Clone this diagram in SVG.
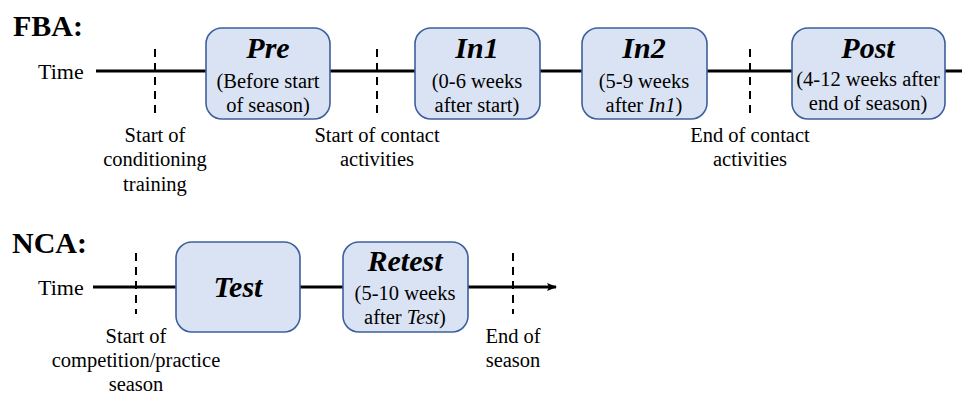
<svg xmlns="http://www.w3.org/2000/svg" width="962" height="396" viewBox="0 0 962 396">
  <style>
    text { font-family: "Liberation Serif", "Times New Roman", serif; fill: #000; }
    .head { font-size: 30px; font-weight: bold; }
    .time { font-size: 22px; }
    .lbl { font-size: 20.5px; text-anchor: middle; }
    .ttl { font-size: 30px; font-weight: bold; font-style: italic; text-anchor: middle; }
    .sub { font-size: 20.5px; text-anchor: middle; }
    .box { fill: #dae3f3; stroke: #3e5f9c; stroke-width: 1.6; }
    .axis { stroke: #000; stroke-width: 3; fill: none; }
    .tick { stroke: #000; stroke-width: 2; stroke-dasharray: 8 6; }
  </style>
  <defs>
    <marker id="arrow" markerWidth="10" markerHeight="8" refX="9" refY="4" orient="auto" markerUnits="userSpaceOnUse">
      <path d="M0,0 L10,4 L0,8 L2,4 Z" fill="#000"/>
    </marker>
  </defs>
  <rect width="962" height="396" fill="#fff"/>

  <!-- time axes and dashed milestone ticks -->
  <g id="connectors">
    <line class="axis" x1="96" y1="71" x2="962" y2="71"/>
    <line class="tick" x1="155" y1="49" x2="155" y2="113"/>
    <line class="tick" x1="377" y1="49" x2="377" y2="113"/>
    <line class="tick" x1="750" y1="49" x2="750" y2="113"/>
    <line class="axis" x1="93" y1="287" x2="556" y2="287" marker-end="url(#arrow)"/>
    <line class="tick" x1="136" y1="253" x2="136" y2="314"/>
    <line class="tick" x1="513" y1="253" x2="513" y2="314"/>
  </g>

  <!-- FBA timeline -->
  <text class="head" x="13" y="36">FBA:</text>
  <text class="time" x="38" y="79">Time</text>

  <g id="pre">
    <rect class="box" x="206" y="28" width="124" height="91" rx="16"/>
    <text class="ttl" x="268" y="58">Pre</text>
    <text class="sub" x="268" y="88">(Before start</text>
    <text class="sub" x="268" y="112">of season)</text>
  </g>
  <g id="in1">
    <rect class="box" x="415" y="28" width="125" height="91" rx="16"/>
    <text class="ttl" x="477" y="58">In1</text>
    <text class="sub" x="477" y="88">(0-6 weeks</text>
    <text class="sub" x="477" y="112">after start)</text>
  </g>
  <g id="in2">
    <rect class="box" x="582" y="28" width="125" height="91" rx="16"/>
    <text class="ttl" x="644" y="58">In2</text>
    <text class="sub" x="644" y="88">(5-9 weeks</text>
    <text class="sub" x="644" y="112">after <tspan font-style="italic">In1</tspan>)</text>
  </g>
  <g id="post">
    <rect class="box" x="792" y="28" width="153" height="91" rx="16"/>
    <text class="ttl" x="868" y="58">Post</text>
    <text class="sub" x="868" y="86">(4-12 weeks after</text>
    <text class="sub" x="868" y="110">end of season)</text>
  </g>

  <g id="fba-marks">
    <text class="lbl" x="155" y="142">Start of</text>
    <text class="lbl" x="155" y="166">conditioning</text>
    <text class="lbl" x="155" y="191">training</text>
    <text class="lbl" x="377" y="142">Start of contact</text>
    <text class="lbl" x="377" y="166">activities</text>
    <text class="lbl" x="750" y="142">End of contact</text>
    <text class="lbl" x="750" y="166">activities</text>
  </g>

  <!-- NCA timeline -->
  <text class="head" x="12" y="253">NCA:</text>
  <text class="time" x="38" y="295">Time</text>

  <g id="test">
    <rect class="box" x="176" y="242" width="124" height="90" rx="16"/>
    <text class="ttl" x="238" y="297">Test</text>
  </g>
  <g id="retest">
    <rect class="box" x="343" y="242" width="125" height="90" rx="16"/>
    <text class="ttl" x="405" y="271">Retest</text>
    <text class="sub" x="405" y="300">(5-10 weeks</text>
    <text class="sub" x="405" y="324">after <tspan font-style="italic">Test</tspan>)</text>
  </g>

  <g id="nca-marks">
    <text class="lbl" x="136" y="343">Start of</text>
    <text class="lbl" x="136" y="367">competition/practice</text>
    <text class="lbl" x="136" y="391">season</text>
    <text class="lbl" x="513" y="343">End of</text>
    <text class="lbl" x="513" y="367">season</text>
  </g>
</svg>
